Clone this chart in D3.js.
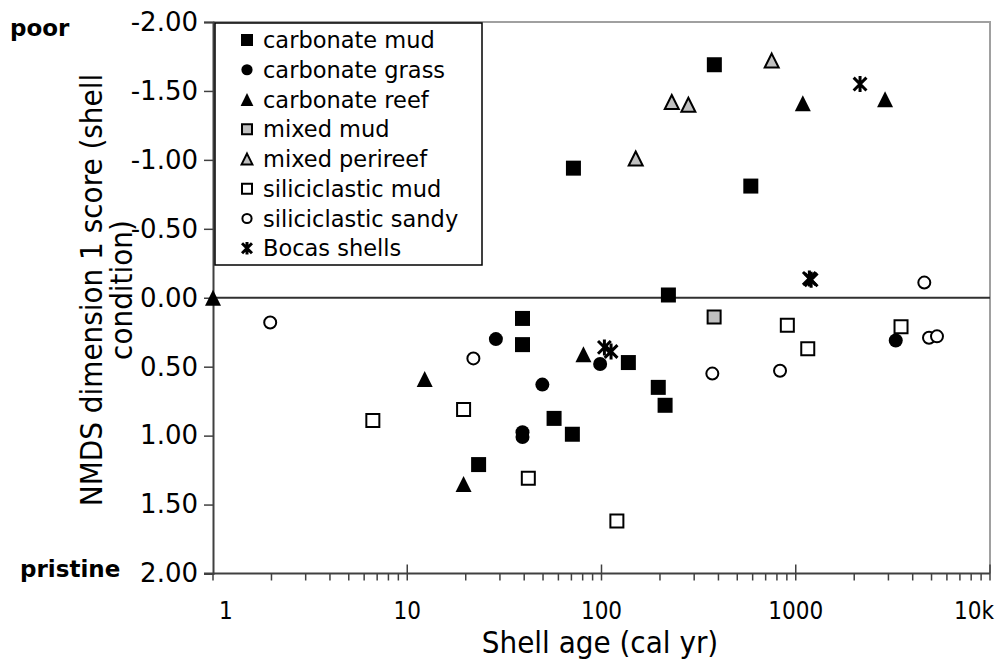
<!DOCTYPE html>
<html>
<head>
<meta charset="utf-8">
<script src="https://cdn.jsdelivr.net/npm/d3@7"></script>
<style>
  body { margin: 0; background: #fff; }
  svg { display: block; }
</style>
</head>
<body>
<svg id="chart" width="998" height="659"></svg>
<script>
// values: [shell age (cal yr), NMDS dim 1 score]
const carbonateMud = [[381, -1.69], [71.7, -0.94], [587, -0.81], [221, -0.02], [39.2, 0.15], [39.2, 0.34],
  [137.5, 0.47], [196, 0.65], [212.5, 0.78], [57, 0.875], [70.8, 0.99], [23.3, 1.21]];
const carbonateGrass = [[28.6, 0.30], [98.4, 0.48], [49.6, 0.63], [39.2, 0.975], [39.2, 1.01], [3272, 0.31]];
const carbonateReef = [[1, 0.0], [12.3, 0.59], [19.5, 1.35], [80.7, 0.41], [1087, -1.41], [2883, -1.44]];
const mixedMud = [[380, 0.14]];
const mixedPerireef = [[752, -1.72], [230, -1.42], [280, -1.40], [150, -1.01]];
const siliciclasticMud = [[6.65, 0.89], [19.5, 0.81], [42, 1.31], [120, 1.62], [905, 0.20], [1153, 0.37], [3483, 0.21]];
const siliciclasticSandy = [[1.97, 0.18], [21.9, 0.44], [372, 0.55], [830, 0.53], [4590, -0.11], [4853, 0.29], [5335, 0.28]];
const bocasShells = [[2143, -1.55], [1175, -0.14], [1200, -0.13], [103.5, 0.36], [112, 0.39]];

const seriesNames = ["carbonate mud", "carbonate grass", "carbonate reef", "mixed mud",
  "mixed perireef", "siliciclastic mud", "siliciclastic sandy", "Bocas shells"];
const yTicks = [-2, -1.5, -1, -0.5, 0, 0.5, 1, 1.5, 2];
const xTicks = [1, 10, 100, 1000, 10000];
const xTickLabels = ["1", "10", "100", "1000", "10k"];

const series = [
  {name: seriesNames[0], data: carbonateMud, shape: "square", fill: "#000", stroke: "none"},
  {name: seriesNames[1], data: carbonateGrass, shape: "circle", fill: "#000", stroke: "none"},
  {name: seriesNames[2], data: carbonateReef, shape: "triangle", fill: "#000", stroke: "none"},
  {name: seriesNames[3], data: mixedMud, shape: "square", fill: "#c0c0c0", stroke: "#000"},
  {name: seriesNames[4], data: mixedPerireef, shape: "triangle", fill: "#c0c0c0", stroke: "#000"},
  {name: seriesNames[5], data: siliciclasticMud, shape: "square", fill: "#fff", stroke: "#000"},
  {name: seriesNames[6], data: siliciclasticSandy, shape: "circle", fill: "#fff", stroke: "#000"},
  {name: seriesNames[7], data: bocasShells, shape: "star", fill: "none", stroke: "#000"}
];

const svg = d3.select("#chart");
const plotLeft = 213, plotRight = 990, plotTop = 22, plotBottom = 573.5;

const x = d3.scaleLog().domain([1, 10000]).range([plotLeft, plotRight]);
const y = d3.scaleLinear().domain([-2, 2]).range([plotTop, plotBottom]);

const sans = "'DejaVu Sans', Verdana, sans-serif";
const cond = "'DejaVu Sans Condensed', 'DejaVu Sans', sans-serif";

// plot area border (top / right)
svg.append("path")
  .attr("d", `M${plotLeft},${plotTop}H${plotRight}V${plotBottom}`)
  .attr("fill", "none").attr("stroke", "#a0a0a0").attr("stroke-width", 2);

// marker path builder, s = nominal size
function markerPath(shape, s) {
  const h = s / 2;
  if (shape === "square") return `M${-h},${-h}H${h}V${h}H${-h}Z`;
  if (shape === "circle") return d3.symbol(d3.symbolCircle, Math.PI * h * h)();
  if (shape === "triangle") return `M0,${-h}L${h},${h}L${-h},${h}Z`;
  // asterisk: X plus vertical bar
  const d = h * 0.8;
  return `M${-d},${-d}L${d},${d}M${d},${-d}L${-d},${d}M0,${-h}V${h}`;
}

function drawMarker(g, sr, scale) {
  const sz = {square: 15, circle: 14, triangle: 16, star: 18}[sr.shape] * scale;
  const filled = sr.stroke === "none";
  const s = filled ? sz : sz - 2;
  g.append("path")
    .attr("d", markerPath(sr.shape, s))
    .attr("fill", sr.fill)
    .attr("stroke", sr.stroke)
    .attr("stroke-width", sr.shape === "star" ? 3 : 2)
    .attr("stroke-linejoin", "miter");
}

// y axis
const yAxis = svg.append("g")
  .attr("transform", `translate(${plotLeft},0)`)
  .call(d3.axisLeft(y).tickValues(yTicks).tickFormat(d => d.toFixed(2)).tickSize(9).tickPadding(6));
yAxis.select(".domain").attr("stroke", "#404040").attr("stroke-width", 2);
yAxis.selectAll(".tick line").attr("stroke", "#404040").attr("stroke-width", 1.5);
yAxis.selectAll(".tick text").attr("font-family", sans).attr("font-size", 26).attr("fill", "#000");

// x axis: minor ticks below, major ticks cross the line
const minor = [];
for (let dec = 1; dec < 10000; dec *= 10) {
  for (let k = 2; k <= 9; k++) minor.push(dec * k);
}
const xg = svg.append("g");
xg.selectAll("line.minor").data(minor).enter().append("line")
  .attr("x1", d => x(d)).attr("x2", d => x(d))
  .attr("y1", plotBottom).attr("y2", plotBottom + 7)
  .attr("stroke", "#404040").attr("stroke-width", 1.5);
xg.selectAll("line.major").data(xTicks).enter().append("line")
  .attr("x1", d => x(d)).attr("x2", d => x(d))
  .attr("y1", (d, i) => i === 0 ? plotBottom : plotBottom - 9).attr("y2", plotBottom + 7)
  .attr("stroke", "#404040").attr("stroke-width", 1.5);
xg.append("line")
  .attr("x1", plotLeft - 9).attr("x2", plotRight).attr("y1", plotBottom).attr("y2", plotBottom)
  .attr("stroke", "#404040").attr("stroke-width", 2);
xg.selectAll("text").data(xTicks).enter().append("text")
  .attr("x", (d, i) => i === 0 ? x(d) + 6 : (i === xTicks.length - 1 ? x(d) + 4 : x(d)))
  .attr("y", 619)
  .attr("text-anchor", (d, i) => i === 0 ? "start" : (i === xTicks.length - 1 ? "end" : "middle"))
  .attr("font-family", cond).attr("font-size", 24)
  .text((d, i) => xTickLabels[i]);

// zero line
svg.append("line")
  .attr("x1", plotLeft).attr("x2", plotRight).attr("y1", y(0)).attr("y2", y(0))
  .attr("stroke", "#303030").attr("stroke-width", 2);

// axis titles
svg.append("text")
  .attr("x", 600).attr("y", 653)
  .attr("text-anchor", "middle")
  .attr("font-family", cond).attr("font-size", 31)
  .text("Shell age (cal yr)");

const yt = svg.append("text")
  .attr("transform", "translate(0,290) rotate(-90)")
  .attr("text-anchor", "middle")
  .attr("font-family", cond).attr("font-size", 31);
yt.append("tspan").attr("x", 0).attr("y", 102).text("NMDS dimension 1 score (shell");
yt.append("tspan").attr("x", 0).attr("y", 132).text("condition)");

svg.append("text").attr("x", 10).attr("y", 36)
  .attr("font-family", sans).attr("font-weight", "bold").attr("font-size", 23)
  .text("poor");
svg.append("text").attr("x", 20).attr("y", 577)
  .attr("font-family", sans).attr("font-weight", "bold").attr("font-size", 23)
  .text("pristine");

// legend
const lg = svg.append("g");
lg.append("rect")
  .attr("x", 215).attr("y", 23).attr("width", 267).attr("height", 242)
  .attr("fill", "#fff").attr("stroke", "#000").attr("stroke-width", 1.5);
series.forEach((sr, i) => {
  const row = lg.append("g").attr("transform", `translate(0,${40 + i * 29.75})`);
  const m = row.append("g").attr("transform", "translate(247,0)");
  drawMarker(m, sr, 0.8);
  row.append("text").attr("x", 263).attr("y", 8)
    .attr("font-family", sans).attr("font-size", 22.5)
    .text(sr.name);
});

// points
series.forEach(sr => {
  const g = svg.append("g");
  sr.data.forEach(p => {
    const m = g.append("g").attr("transform", `translate(${x(p[0])},${y(p[1])})`);
    drawMarker(m, sr, 1);
  });
});
</script>
</body>
</html>
